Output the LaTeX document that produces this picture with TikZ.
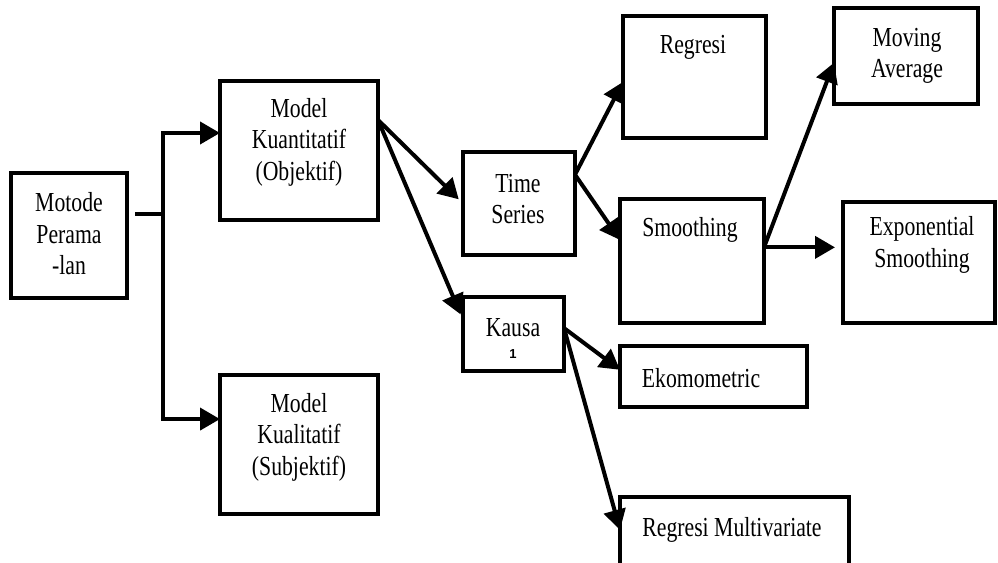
\documentclass[tikz,border=0pt]{standalone}
\usepackage{fontspec}
\setmainfont{Liberation Serif}[FakeStretch=0.79]
\newfontfamily\notefont{Liberation Sans}
\usetikzlibrary{arrows.meta,calc}
\begin{document}
\begin{tikzpicture}[x=1pt,y=-1pt,
  box/.style={draw, line width=4pt, inner sep=0pt, outer sep=0pt},
  lbl/.style={align=center, inner sep=0pt, font=\fontsize{27.5}{31.5}\selectfont},
  link/.style={line width=4pt},
  arrow/.style={link, -{Triangle[length=20pt,width=22pt]}},
]
\useasboundingbox (0,0) rectangle (998,562);

% boxes
\node[box, minimum width=116pt, minimum height=125pt] (mot)   at (69,235.5)  {};
\node[box, minimum width=158pt, minimum height=139pt] (kuan)  at (299,150.5) {};
\node[box, minimum width=158pt, minimum height=139pt] (kual)  at (299,444.5) {};
\node[box, minimum width=112pt, minimum height=103pt] (ts)    at (519,203.5) {};
\node[box, minimum width=101pt, minimum height=74pt]  (kausa) at (513.5,334) {};
\node[box, minimum width=143pt, minimum height=122pt] (reg)   at (694.5,77)  {};
\node[box, minimum width=144pt, minimum height=124pt] (smo)   at (692,261)   {};
\node[box, minimum width=187pt, minimum height=61pt]  (eko)   at (713.5,376.5) {};
\node[box, minimum width=229pt, minimum height=73pt]  (rm)    at (734.5,533.5) {};
\node[box, minimum width=144pt, minimum height=96pt]  (ma)    at (906,56)    {};
\node[box, minimum width=152pt, minimum height=121pt] (exp)   at (919,262.5) {};

% texts
\node[lbl] (motT)   at (69,234)   {Motode\\Perama\\-lan};
\node[lbl] (kuanT)  at (299,142)  {Model\\Kuantitatif\\(Objektif)};
\node[lbl] (kualT)  at (299,437)  {Model\\Kualitatif\\(Subjektif)};
\node[lbl] (tsT)    at (518,199)  {Time\\Series};
\node[lbl] (regT)   at (693,47)   {Regresi};
\node[lbl] (smoT)   at (690,230)  {Smoothing};
\node[lbl] (maT)    at (907,56)   {Moving\\Average};
\node[lbl] (expT)   at (922,245)  {Exponential\\Smoothing};
\node[lbl] (kausaT) at (513,328)  {Kausa};
\node[inner sep=0pt, font=\fontsize{13}{15}\notefont\bfseries] (kausaN) at (513,354) {1};
\node[lbl] (ekoT)   at (701,378)  {Ekomometric};
\node[lbl] (rmT)    at (732,530)  {Regresi Multivariate};

% fork from the root box
\coordinate (motOut) at ($(mot.north east)!0.33!(mot.south east)+(8,0)$);
\coordinate (fork)   at ($(motOut)+(28,0)$);
\coordinate (kuanIn) at ($(kuan.north west)!0.374!(kuan.south west)$);
\coordinate (kualIn) at ($(kual.north west)!0.317!(kual.south west)$);
\draw[link] (motOut) -- (fork);
\draw[arrow] (fork) |- (kuanIn);
\draw[arrow] (fork) |- (kualIn);

% quantitative branch
\coordinate (kuanOut) at ($(kuan.north east)!0.28!(kuan.south east)$);
\draw[arrow, shorten >=6pt] (kuanOut) -- (ts.west);
\draw[arrow, shorten >=6pt] (kuanOut) -- ($(kausa.north west)!0.31!(kausa.south west)$);

% time series branch
\coordinate (tsOut) at ($(ts.north east)!0.22!(ts.south east)$);
\draw[arrow] (tsOut) -- ($(reg.north west)!0.54!(reg.south west)$);
\draw[arrow] (tsOut) -- ($(smo.north west)!0.33!(smo.south west)$);

% smoothing branch
\coordinate (smoOut) at ($(smo.north east)!0.39!(smo.south east)$);
\draw[arrow] (smoOut) -- ($(ma.north west)!0.57!(ma.south west)$);
\draw[arrow, shorten >=8pt] (smoOut) -- (smoOut -| exp.west);

% causal branch
\coordinate (kausaOut) at ($(kausa.north east)!0.42!(kausa.south east)$);
\draw[arrow] (kausaOut) -- ($(eko.north west)!0.39!(eko.south west)$);
\draw[arrow] (kausaOut) -- ($(rm.north west)!0.45!(rm.south west)$);
\end{tikzpicture}
\end{document}
